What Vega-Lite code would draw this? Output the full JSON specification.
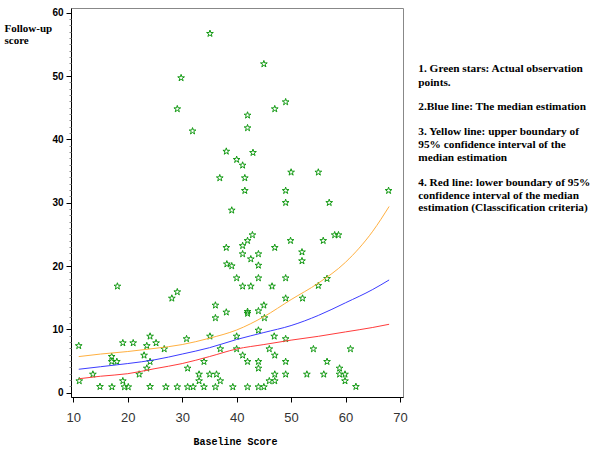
{
  "$schema": "https://vega.github.io/schema/vega-lite/v6.json",
  "width": 332,
  "height": 389,
  "autosize": {"type": "none"},
  "padding": {"left": 71, "top": 8, "right": 197, "bottom": 57},
  "background": "white",
  "config": {"view": {"stroke": "#888888", "strokeWidth": 1}, "axis": {"grid": false}},
  "resolve": {"axis": {"y": "independent"}},
  "layer": [
    {
      "data": {"values": [
        {"x":35.1,"y":56.7},{"x":45.0,"y":51.9},{"x":29.8,"y":49.7},{"x":29.1,"y":44.8},{"x":47.0,"y":44.8},
        {"x":49.0,"y":45.9},{"x":42.0,"y":43.8},{"x":42.0,"y":41.8},{"x":31.9,"y":41.3},{"x":38.1,"y":38.1},
        {"x":43.0,"y":37.9},{"x":40.0,"y":36.8},{"x":41.1,"y":35.9},{"x":36.9,"y":33.9},{"x":41.5,"y":33.9},
        {"x":41.5,"y":31.9},{"x":50.0,"y":34.8},{"x":49.0,"y":31.9},{"x":49.0,"y":30.0},{"x":39.1,"y":28.8},
        {"x":55.0,"y":34.8},{"x":57.0,"y":30.0},{"x":67.9,"y":31.9},
        {"x":42.9,"y":24.9},{"x":42.0,"y":24.0},{"x":41.1,"y":23.2},{"x":38.1,"y":22.9},{"x":47.0,"y":22.9},
        {"x":49.9,"y":24.0},{"x":55.9,"y":24.0},{"x":58.0,"y":24.9},{"x":58.7,"y":24.9},{"x":41.1,"y":21.9},
        {"x":44.0,"y":21.9},{"x":52.0,"y":22.2},{"x":52.0,"y":20.8},{"x":42.6,"y":21.1},{"x":44.0,"y":20.1},
        {"x":38.2,"y":20.3},{"x":39.1,"y":20.0},{"x":40.0,"y":18.1},{"x":44.0,"y":18.1},{"x":49.0,"y":18.1},
        {"x":56.6,"y":18.0},{"x":41.1,"y":16.8},{"x":42.6,"y":16.8},{"x":46.5,"y":16.8},{"x":18.1,"y":16.8},
        {"x":55.0,"y":16.9},{"x":29.1,"y":15.9},{"x":28.1,"y":14.9},{"x":49.0,"y":14.9},{"x":52.1,"y":14.9},
        {"x":36.1,"y":13.8},{"x":45.0,"y":13.8},{"x":36.1,"y":11.8},{"x":45.1,"y":11.8},{"x":38.1,"y":12.7},
        {"x":42.0,"y":12.5},{"x":42.0,"y":12.8},{"x":44.0,"y":12.9},{"x":44.0,"y":9.85},{"x":35.1,"y":8.9},
        {"x":40.0,"y":8.9},{"x":46.9,"y":8.9},{"x":49.0,"y":8.5},{"x":30.8,"y":8.5},{"x":24.1,"y":8.9},
        {"x":11.0,"y":7.4},{"x":19.1,"y":7.85},{"x":21.0,"y":7.85},{"x":25.2,"y":7.85},{"x":23.5,"y":7.4},
        {"x":26.7,"y":6.9},{"x":37.0,"y":6.9},{"x":40.0,"y":6.9},{"x":46.0,"y":6.9},{"x":54.1,"y":6.9},
        {"x":60.9,"y":6.9},{"x":17.05,"y":5.7},{"x":18.0,"y":4.9},{"x":17.05,"y":4.9},{"x":23.0,"y":5.9},
        {"x":41.1,"y":5.9},{"x":47.0,"y":5.9},{"x":24.1,"y":4.9},{"x":34.0,"y":4.9},{"x":42.0,"y":4.9},
        {"x":44.0,"y":4.9},{"x":49.0,"y":4.9},{"x":56.6,"y":4.9},{"x":23.5,"y":3.85},{"x":31.0,"y":3.85},
        {"x":44.0,"y":3.85},{"x":58.9,"y":3.85},{"x":13.6,"y":2.9},{"x":22.1,"y":2.9},{"x":33.1,"y":2.9},
        {"x":35.05,"y":2.9},{"x":36.3,"y":2.9},{"x":47.0,"y":2.9},{"x":49.0,"y":2.9},{"x":52.9,"y":2.9},
        {"x":56.0,"y":2.9},{"x":58.9,"y":2.9},{"x":59.9,"y":2.9},{"x":11.1,"y":1.85},{"x":19.1,"y":1.85},
        {"x":33.1,"y":1.85},{"x":37.0,"y":1.85},{"x":46.0,"y":1.85},{"x":47.0,"y":1.85},{"x":59.9,"y":1.85},
        {"x":14.9,"y":0.95},{"x":17.1,"y":0.9},{"x":19.4,"y":0.9},{"x":20.1,"y":0.9},{"x":24.1,"y":0.95},
        {"x":27.0,"y":0.9},{"x":29.1,"y":0.9},{"x":31.0,"y":0.9},{"x":32.0,"y":0.9},{"x":34.0,"y":0.9},
        {"x":36.1,"y":0.9},{"x":39.3,"y":0.9},{"x":42.0,"y":0.9},{"x":44.0,"y":0.9},{"x":45.0,"y":0.9},
        {"x":61.9,"y":0.95}
      ]},
      "mark": {
        "type": "point",
        "shape": "M0,-1L0.2245,-0.309L0.9511,-0.309L0.3633,0.118L0.5878,0.809L0,0.382L-0.5878,0.809L-0.3633,0.118L-0.9511,-0.309L-0.2245,-0.309Z",
        "filled": false,
        "size": 50,
        "stroke": "#119911",
        "strokeWidth": 1,
        "opacity": 1
      },
      "encoding": {
        "x": {
          "field": "x", "type": "quantitative",
          "scale": {"domain": [9.58, 70.55], "nice": false, "zero": false},
          "axis": {
            "values": [10, 20, 30, 40, 50, 60, 70],
            "tickSize": 5,
            "tickColor": "#000000",
            "domainColor": "#000000",
            "labelFont": "'Liberation Sans Narrow', 'Liberation Sans', sans-serif",
            "labelFontSize": 13,
            "labelColor": "#333333",
            "labelPadding": 9,
            "title": "Baseline Score",
            "titleFont": "Liberation Mono",
            "titleFontSize": 10,
            "titleFontWeight": "bold",
            "titleColor": "#000000",
            "titleX": 164,
            "titleY": 44.7,
            "titleBaseline": "middle"
          }
        },
        "y": {
          "field": "y", "type": "quantitative",
          "scale": {"domain": [-0.68, 60.74], "nice": false, "zero": false},
          "axis": {
            "orient": "left",
            "values": [0, 10, 20, 30, 40, 50, 60],
            "labelOverlap": false,
            "tickSize": 5,
            "tickColor": "#000000",
            "domainColor": "#000000",
            "labelFont": "Liberation Sans",
            "labelFontWeight": "bold",
            "labelFontSize": 10,
            "labelColor": "#000000",
            "labelPadding": 3,
            "title": ["Follow-up", "score"],
            "titleAngle": 0,
            "titleAlign": "left",
            "titleBaseline": "alphabetic",
            "titleX": -67,
            "titleY": 23,
            "titleFont": "Liberation Serif",
            "titleFontSize": 11,
            "titleFontWeight": "bold",
            "titleColor": "#000000",
            "titleLineHeight": 12.5
          }
        }
      }
    },
    {
      "data": {"values": [
        {"series":"Upper","x":11,"y":5.7},{"series":"Upper","x":15,"y":6.1},{"series":"Upper","x":20,"y":6.5},
        {"series":"Upper","x":25,"y":7.0},{"series":"Upper","x":30,"y":7.6},{"series":"Upper","x":35,"y":8.6},
        {"series":"Upper","x":40,"y":9.9},{"series":"Upper","x":45,"y":12.0},{"series":"Upper","x":50,"y":14.7},
        {"series":"Upper","x":55,"y":17.3},{"series":"Upper","x":60,"y":20.6},{"series":"Upper","x":65,"y":25.5},
        {"series":"Upper","x":68,"y":29.4},
        {"series":"Median","x":11,"y":3.7},{"series":"Median","x":15,"y":4.1},{"series":"Median","x":20,"y":4.6},
        {"series":"Median","x":25,"y":5.2},{"series":"Median","x":30,"y":6.1},{"series":"Median","x":35,"y":7.1},
        {"series":"Median","x":40,"y":8.4},{"series":"Median","x":45,"y":9.5},{"series":"Median","x":50,"y":10.6},
        {"series":"Median","x":55,"y":12.2},{"series":"Median","x":60,"y":14.2},{"series":"Median","x":65,"y":16.3},
        {"series":"Median","x":68,"y":17.8},
        {"series":"Lower","x":11,"y":2.2},{"series":"Lower","x":15,"y":2.6},{"series":"Lower","x":20,"y":3.0},
        {"series":"Lower","x":25,"y":3.8},{"series":"Lower","x":30,"y":4.6},{"series":"Lower","x":35,"y":5.7},
        {"series":"Lower","x":40,"y":6.9},{"series":"Lower","x":45,"y":7.6},{"series":"Lower","x":50,"y":8.3},
        {"series":"Lower","x":55,"y":8.9},{"series":"Lower","x":60,"y":9.6},{"series":"Lower","x":65,"y":10.3},
        {"series":"Lower","x":68,"y":10.8}
      ]},
      "mark": {"type": "line", "strokeWidth": 1, "interpolate": "monotone"},
      "encoding": {
        "x": {"field": "x", "type": "quantitative", "scale": {"domain": [9.58, 70.55], "nice": false, "zero": false}},
        "y": {
          "field": "y", "type": "quantitative",
          "scale": {"domain": [-0.68, 60.74], "nice": false, "zero": false},
          "axis": {
            "orient": "left",
            "values": [1,2,3,4,5,6,7,8,9,11,12,13,14,15,16,17,18,19,21,22,23,24,25,26,27,28,29,31,32,33,34,35,36,37,38,39,41,42,43,44,45,46,47,48,49,51,52,53,54,55,56,57,58,59],
            "labels": false,
            "domain": false,
            "tickSize": 2,
            "tickColor": "#888888",
            "title": null
          }
        },
        "color": {
          "field": "series", "type": "nominal",
          "scale": {"domain": ["Upper", "Median", "Lower"], "range": ["#ffb040", "#3c3cff", "#ff3c3c"]},
          "legend": null
        },
        "detail": {"field": "series"}
      }
    },
    {
      "data": {"values": [
        {"x":73.36,"y":51.1,"text":"1. Green stars: Actual observation"},
        {"x":73.36,"y":48.9,"text":"points."},
        {"x":73.36,"y":45.07,"text":"2.Blue line: The median estimation"},
        {"x":73.36,"y":41.2,"text":"3. Yellow line: upper boundary of"},
        {"x":73.36,"y":39.1,"text":"95% confidence interval of the"},
        {"x":73.36,"y":37.1,"text":"median estimation"},
        {"x":73.36,"y":33.06,"text":"4. Red line: lower boundary of 95%"},
        {"x":73.36,"y":31.1,"text":"confidence interval of the median"},
        {"x":73.36,"y":29.2,"text":"estimation (Classcification criteria)"}
      ]},
      "mark": {"type": "text", "align": "left", "baseline": "middle", "font": "Liberation Serif", "fontSize": 11.3, "fontWeight": "bold", "color": "#000000"},
      "encoding": {
        "x": {"field": "x", "type": "quantitative", "scale": {"domain": [9.58, 70.55], "nice": false, "zero": false}},
        "y": {"field": "y", "type": "quantitative", "scale": {"domain": [-0.68, 60.74], "nice": false, "zero": false}, "axis": null},
        "text": {"field": "text"}
      }
    }
  ]
}
